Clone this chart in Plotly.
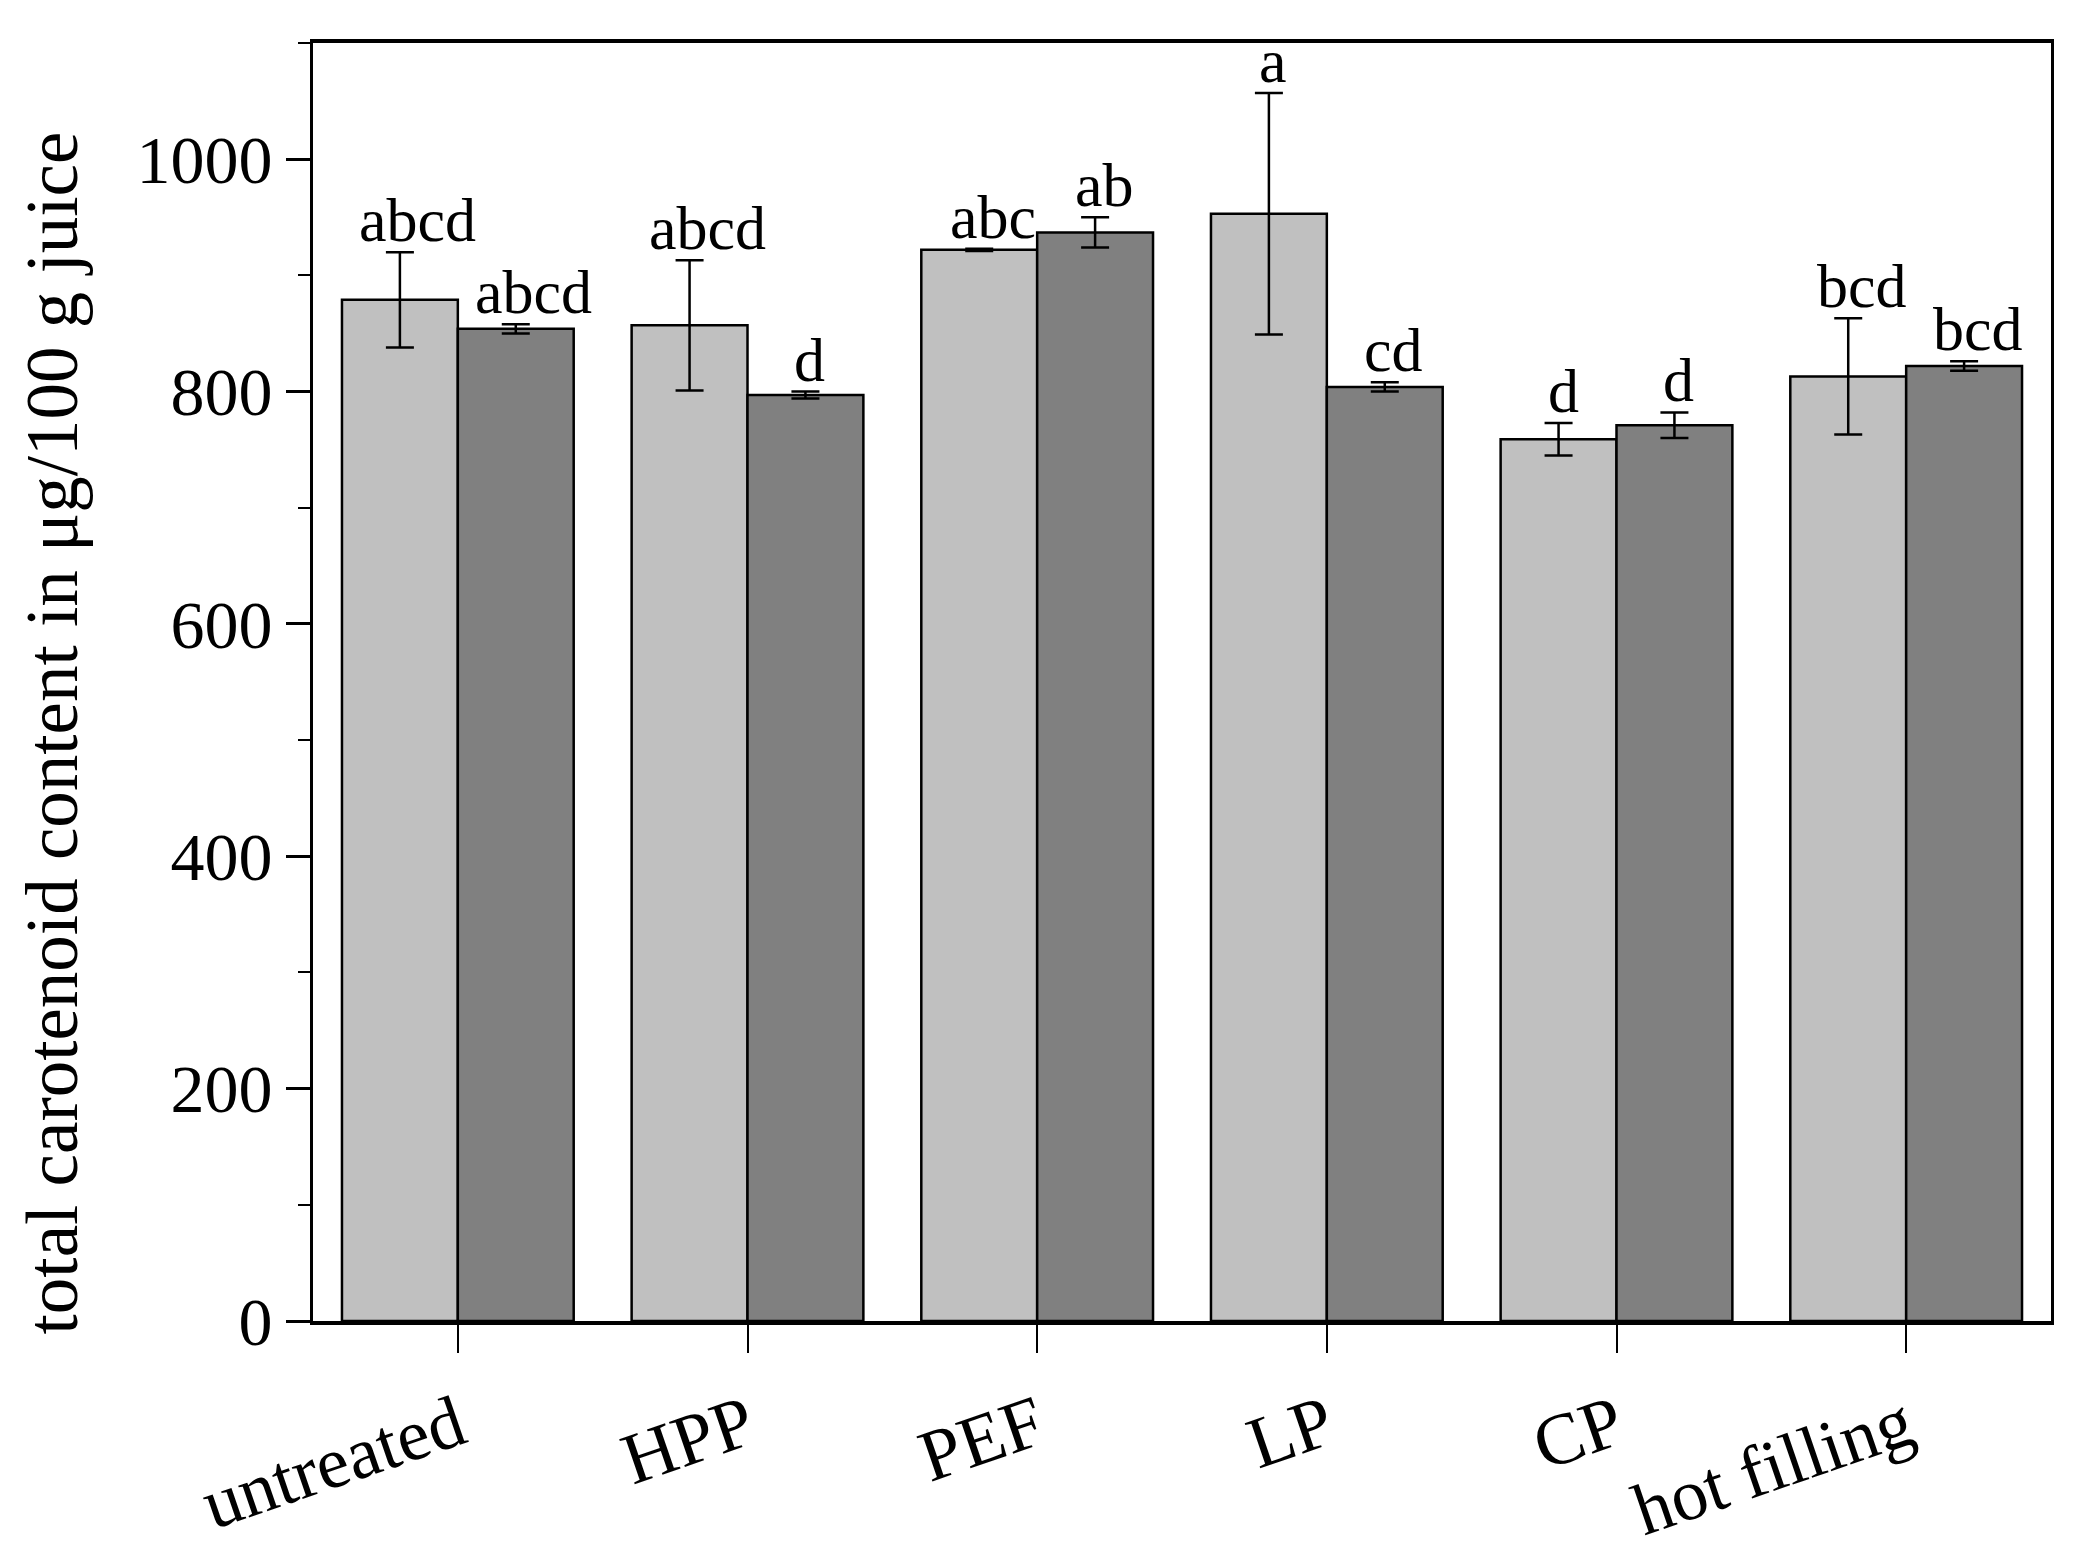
import plotly.graph_objects as go

categories = ["untreated", "HPP", "PEF", "LP", "CP", "hot filling"]
light_values = [879, 857, 922, 953, 759, 813]
light_errors = [41, 56, 1, 104, 14, 50]
dark_values = [854, 797, 937, 804, 771, 822]
dark_errors = [4, 3, 13, 4, 11, 4]
light_letters = ["abcd", "abcd", "abc", "a", "d", "bcd"]
dark_letters = ["abcd", "d", "ab", "cd", "d", "bcd"]
y_ticks = [0, 200, 400, 600, 800, 1000]

FONT = "Liberation Serif"
bargap = 0.2
bw = (1 - bargap) / 2
xpos = list(range(len(categories)))

fig = go.Figure()
for vals, errs, color, name in [
    (light_values, light_errors, "#c0c0c0", "light"),
    (dark_values, dark_errors, "#808080", "dark"),
]:
    fig.add_trace(go.Bar(
        x=xpos, y=vals, name=name, offsetgroup=name,
        marker=dict(color=color, line=dict(color="black", width=2.5)),
        error_y=dict(type="data", array=errs, visible=True, color="black",
                     thickness=2.5, width=14),
    ))

annotations = []
for vals, errs, letters, sign in [
    (light_values, light_errors, light_letters, -1),
    (dark_values, dark_errors, dark_letters, 1),
]:
    for i, (v, e, t) in enumerate(zip(vals, errs, letters)):
        annotations.append(dict(
            x=i + sign * bw / 2, y=v + e, xref="x", yref="y", text=t,
            showarrow=False, yanchor="bottom", xanchor="center", yshift=-4,
            xshift=4.5 * len(t),
            font=dict(family=FONT, size=62, color="black"),
        ))

annotations.append(dict(
    text="total carotenoid content in μg/100 g juice",
    xref="paper", yref="paper", x=-0.150, y=0.46, textangle=-90,
    showarrow=False, xanchor="center", yanchor="middle",
    font=dict(family=FONT, size=73, color="black"),
))

fig.update_layout(
    width=2089, height=1551,
    margin=dict(l=305, r=46, t=35, b=238),
    paper_bgcolor="white", plot_bgcolor="white",
    barmode="group", bargap=bargap, bargroupgap=0,
    showlegend=False,
    annotations=annotations,
    xaxis=dict(
        range=[-0.5, 5.5], tickvals=xpos, ticktext=categories,
        tickangle=-19, ticks="outside", ticklen=28, tickwidth=2,
        tickcolor="black", showline=True, linewidth=3.5, linecolor="black",
        mirror=True, showgrid=False, zeroline=False, automargin=False,
        ticklabelstandoff=3,
        tickfont=dict(family=FONT, size=73, color="black"),
    ),
    yaxis=dict(
        range=[0, 1100], tickvals=y_ticks, ticks="outside", ticklen=24,
        tickwidth=2.5, tickcolor="black", showline=True, linewidth=3,
        linecolor="black", mirror=True, showgrid=False, zeroline=False,
        automargin=False,
        tickfont=dict(family=FONT, size=68, color="black"),
        minor=dict(dtick=100, ticks="outside", ticklen=12, tickwidth=2,
                   tickcolor="black", showgrid=False),
    ),
)

fig.write_html("out.html")
